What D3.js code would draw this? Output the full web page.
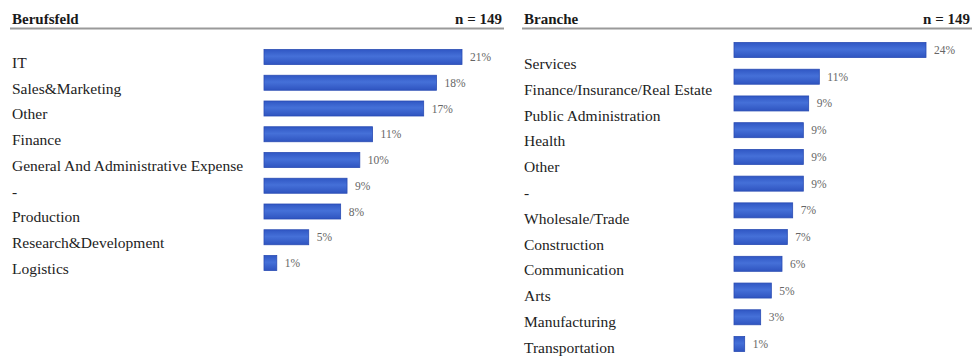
<!DOCTYPE html>
<html>
<head>
<meta charset="utf-8">
<script src="https://cdn.jsdelivr.net/npm/d3@7"></script>
<style>
  html, body { margin: 0; padding: 0; background: #fff; }
  svg { display: block; }
  svg text { font-family: "Liberation Serif", "Times New Roman", Times, serif; }
</style>
</head>
<body>
<svg id="chart" width="972" height="359"></svg>
<script>
// Respondents per answer (n = 149), two separate questions
const respondents = 149;

const berufsfeldTitle = "Berufsfeld";
const berufsfeldCategories = [
  "IT", "Sales&Marketing", "Other", "Finance",
  "General And Administrative Expense", "-", "Production",
  "Research&Development", "Logistics"
];
const berufsfeldCounts = [31, 27, 25, 17, 15, 13, 12, 7, 2];

const brancheTitle = "Branche";
const brancheCategories = [
  "Services", "Finance/Insurance/Real Estate", "Public Administration",
  "Health", "Other", "-", "Wholesale/Trade", "Construction",
  "Communication", "Arts", "Manufacturing", "Transportation"
];
const brancheCounts = [36, 16, 14, 13, 13, 13, 11, 10, 9, 7, 5, 2];

const svg = d3.select("#chart");

const defs = svg.append("defs");
const grad = defs.append("linearGradient")
  .attr("id", "barFill").attr("x1", 0).attr("y1", 0).attr("x2", 0).attr("y2", 1);
grad.append("stop").attr("offset", "0%").attr("stop-color", "#3057c4");
grad.append("stop").attr("offset", "45%").attr("stop-color", "#4570d8");
grad.append("stop").attr("offset", "100%").attr("stop-color", "#2f54c0");

const pct = v => Math.round(v * 100) + "%";

function drawPanel(cfg) {
  const g = svg.append("g");
  const data = cfg.categories.map((c, i) => ({ cat: c, share: cfg.counts[i] / respondents }));

  // header: title, n and rule underneath
  g.append("text")
    .attr("x", cfg.left + 2).attr("y", 24)
    .attr("font-size", 15).attr("font-weight", "bold")
    .attr("fill", "#1a1a1a")
    .text(cfg.title);
  g.append("text")
    .attr("x", cfg.right - 2).attr("y", 24)
    .attr("text-anchor", "end")
    .attr("font-size", 15).attr("font-weight", "bold")
    .attr("fill", "#1a1a1a")
    .text("n = " + respondents);
  g.append("line")
    .attr("x1", cfg.left).attr("x2", cfg.right)
    .attr("y1", 28.5).attr("y2", 28.5)
    .attr("stroke", "#9a9a9a").attr("stroke-width", 2);

  const x = d3.scaleLinear()
    .domain([0, d3.max(data, d => d.share)])
    .range([cfg.barX, cfg.barMaxX]);
  const yBar = d3.scalePoint().domain(cfg.categories).range(cfg.barRange);
  const yLabel = d3.scalePoint().domain(cfg.categories).range(cfg.labelRange);
  const barH = 15;

  g.selectAll("text.cat").data(data).join("text")
    .attr("class", "cat")
    .attr("x", cfg.left + 2)
    .attr("y", d => yLabel(d.cat))
    .attr("dy", "0.35em")
    .attr("font-size", 15.5)
    .attr("fill", "#222")
    .text(d => d.cat);

  g.selectAll("rect.bar").data(data).join("rect")
    .attr("class", "bar")
    .attr("x", x(0))
    .attr("y", d => yBar(d.cat) - barH / 2)
    .attr("width", d => x(d.share) - x(0))
    .attr("height", barH)
    .attr("fill", "url(#barFill)")
    .attr("stroke", "#2a4cb3")
    .attr("stroke-width", 0.8);

  g.selectAll("text.val").data(data).join("text")
    .attr("class", "val")
    .attr("x", d => x(d.share) + 8)
    .attr("y", d => yBar(d.cat))
    .attr("dy", "0.35em")
    .attr("font-size", 11.5)
    .attr("fill", "#666")
    .text(d => pct(d.share));
}

drawPanel({
  title: berufsfeldTitle,
  categories: berufsfeldCategories,
  counts: berufsfeldCounts,
  left: 10, right: 504,
  barX: 264, barMaxX: 462,
  barRange: [57, 263],
  labelRange: [62.5, 268.5]
});

drawPanel({
  title: brancheTitle,
  categories: brancheCategories,
  counts: brancheCounts,
  left: 522, right: 972,
  barX: 734, barMaxX: 926,
  barRange: [50, 344],
  labelRange: [63.5, 347.5]
});
</script>
</body>
</html>
